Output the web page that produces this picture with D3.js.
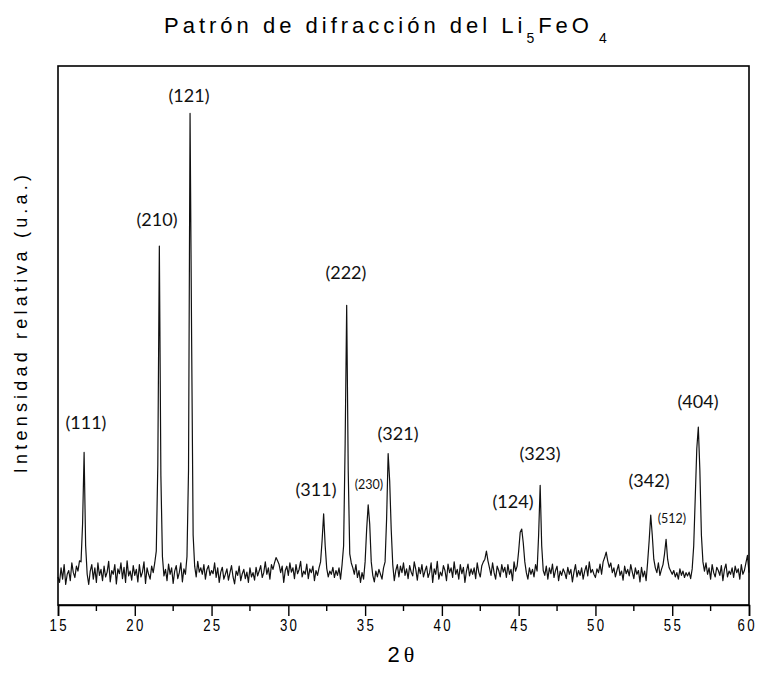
<!DOCTYPE html>
<html><head><meta charset="utf-8">
<script src="https://cdn.jsdelivr.net/npm/d3@7"></script>
<style>
html,body{margin:0;padding:0;background:#fff;}
svg{display:block;}
</style></head>
<body>
<script>
// 2θ sampling: start, step (degrees)
const thetaStart = 15.0;
const thetaStep = 0.1;
// Relative intensity, one row per degree (x.0 … x.9), last value = 60.0
const intensity = [
/*15*/ 52,42,69,48,75,38,57,64,45,78,
/*16*/ 60,51,72,63,82,80,150,283,110,57,
/*17*/ 38,63,75,48,69,42,78,55,66,45,
/*18*/ 72,52,61,81,43,64,57,75,39,67,
/*19*/ 58,78,49,70,42,82,54,63,46,73,
/*20*/ 55,66,43,75,52,61,80,40,69,57,
/*21*/ 48,72,60,78,100,260,666,240,90,54,
/*22*/ 66,45,76,57,69,40,63,73,49,60,
/*23*/ 78,43,67,57,90,250,912,500,130,72,
/*24*/ 52,81,61,69,57,75,48,66,73,55,
/*25*/ 64,58,78,51,69,42,61,70,48,57,
/*26*/ 67,46,60,73,52,39,63,55,72,45,
/*27*/ 58,66,49,61,42,69,52,60,46,70,
/*28*/ 54,63,73,51,60,80,57,69,48,75,
/*29*/ 66,78,88,82,75,60,72,42,64,72,
/*30*/ 55,78,61,69,49,75,58,66,81,52,
/*31*/ 63,57,76,49,67,60,72,45,64,55,
/*32*/ 69,80,120,169,110,68,52,63,57,70,
/*33*/ 51,64,55,69,48,75,110,300,556,250,
/*34*/ 95,78,69,57,75,51,64,42,60,48,
/*35*/ 80,140,186,150,80,55,43,63,52,66,
/*36*/ 57,48,69,80,160,281,230,140,75,45,
/*37*/ 64,75,52,72,60,78,55,67,49,73,
/*38*/ 61,54,80,66,46,70,58,75,52,63,
/*39*/ 72,51,60,78,42,67,57,81,48,61,
/*40*/ 54,73,64,45,76,60,69,51,80,57,
/*41*/ 66,48,75,58,70,42,63,76,54,67,
/*42*/ 57,69,49,78,61,52,73,80,85,100,
/*43*/ 82,69,55,78,60,48,72,64,52,75,
/*44*/ 61,70,51,75,57,66,45,80,63,72,
/*45*/ 100,135,141,115,80,60,48,69,57,66,
/*46*/ 52,75,63,130,222,110,64,55,72,48,
/*47*/ 69,58,76,51,64,72,45,63,55,67,
/*48*/ 60,49,70,57,66,43,61,75,52,64,
/*49*/ 55,69,48,63,73,54,80,60,66,57,
/*50*/ 51,67,60,76,57,80,88,98,82,70,
/*51*/ 78,60,69,52,64,75,55,63,46,72,
/*52*/ 58,66,54,75,61,49,69,57,64,43,
/*53*/ 70,52,63,45,80,120,167,130,85,69,
/*54*/ 60,78,55,66,75,95,122,85,69,63,
/*55*/ 57,64,52,60,48,67,55,63,51,60,
/*56*/ 54,61,49,67,110,200,290,330,250,130,
/*57*/ 80,63,78,57,69,48,75,60,52,70,
/*58*/ 64,55,73,45,66,76,52,63,57,69,
/*59*/ 51,72,60,67,48,75,57,64,78,92,
/*60*/ 60
];
// Peak labels (Miller indices): label centre in 2θ and in intensity units
const peakLabels = ["(111)","(210)","(121)","(311)","(222)","(230)","(321)","(124)","(323)","(342)","(512)","(404)"];
const peakTheta  = [16.82, 21.45, 23.53, 31.80, 33.75, 35.25, 37.14, 44.63, 46.39, 53.49, 54.98, 56.68];
const peakLabelI = [338, 714, 944, 213, 616, 223, 317, 191, 280, 230, 160, 377];
const peakSmall  = [false,false,false,false,false,true,false,false,false,false,true,false];
const xTicks = [15,20,25,30,35,40,45,50,55,60];

const W = 758, H = 673;
const m = {left:58, right:749, top:66, bottom:605};
const svg = d3.select("body").append("svg").attr("width",W).attr("height",H);

const x = d3.scaleLinear().domain([15,60]).range([m.left,m.right]);
const y = d3.scaleLinear().domain([0,1000]).range([m.bottom,m.top]);

const data = intensity.map((v,i)=>({t: thetaStart + i*thetaStep, v}));

// pattern line
svg.append("path").datum(data)
  .attr("fill","none").attr("stroke","#111").attr("stroke-width",1.2)
  .attr("stroke-linejoin","round")
  .attr("d", d3.line().x(d=>x(d.t)).y(d=>y(d.v)));

// frame
svg.append("rect").attr("x",m.left).attr("y",m.top)
  .attr("width",m.right-m.left).attr("height",m.bottom-m.top)
  .attr("fill","none").attr("stroke","#000").attr("stroke-width",1.6);

// x axis
const xAxis = d3.axisBottom(x).tickValues(xTicks).tickSize(11).tickFormat(d3.format("d"));
const gx = svg.append("g").attr("transform",`translate(0,${m.bottom})`).call(xAxis);
gx.select(".domain").attr("stroke-width",1.6);
gx.selectAll(".tick line").attr("stroke-width",1.4);
gx.selectAll(".tick text")
  .attr("font-family","'Liberation Sans',Arial,sans-serif")
  .attr("font-size",17).attr("letter-spacing","3px")
  .attr("x",(d,i,n)=> i===n.length-1 ? -3 : 1).attr("y",14).attr("dy","0.71em")
  .attr("transform","scale(0.78,1)")
  .attr("fill","#000");
const minor = d3.range(17.5,60,5);
svg.append("g").selectAll("line").data(minor).join("line")
  .attr("x1",d=>x(d)).attr("x2",d=>x(d)).attr("y1",m.bottom).attr("y2",m.bottom+6)
  .attr("stroke","#000").attr("stroke-width",1.4);

// peak labels
svg.append("g").selectAll("text").data(peakLabels).join("text")
  .attr("x",(d,i)=>x(peakTheta[i])).attr("y",(d,i)=>y(peakLabelI[i]))
  .attr("dy","0.35em")
  .attr("text-anchor","middle")
  .attr("font-family","Lato,'Open Sans',sans-serif")
  .attr("font-size",(d,i)=>peakSmall[i]?12.5:18)
  .attr("fill","#111").text(d=>d);

// title
const title = svg.append("text").attr("x",164).attr("y",33)
  .attr("font-family","'Liberation Sans',Arial,sans-serif")
  .attr("font-size",22).attr("letter-spacing","4px").attr("fill","#000");
title.append("tspan").text("Patrón de difracción del Li");
title.append("tspan").attr("font-size",14).attr("dy",10).text("5");
title.append("tspan").attr("dy",-10).text("FeO");
title.append("tspan").attr("font-size",14).attr("dy",10).attr("dx",6).text("4");

// y label
svg.append("text").attr("transform","translate(27,322) rotate(-90)")
  .attr("text-anchor","middle")
  .attr("font-family","'Liberation Sans',Arial,sans-serif")
  .attr("font-size",18).attr("letter-spacing","4.2px").attr("fill","#000")
  .text("Intensidad relativa (u.a.)");

// x label
const xl = svg.append("text").attr("x",401).attr("y",662).attr("text-anchor","middle")
  .attr("font-size",22).attr("fill","#000");
xl.append("tspan").attr("font-family","'Liberation Sans',sans-serif").text("2");
xl.append("tspan").attr("font-family","'Liberation Serif',serif").attr("dx",4).text("θ");
</script>
</body></html>
